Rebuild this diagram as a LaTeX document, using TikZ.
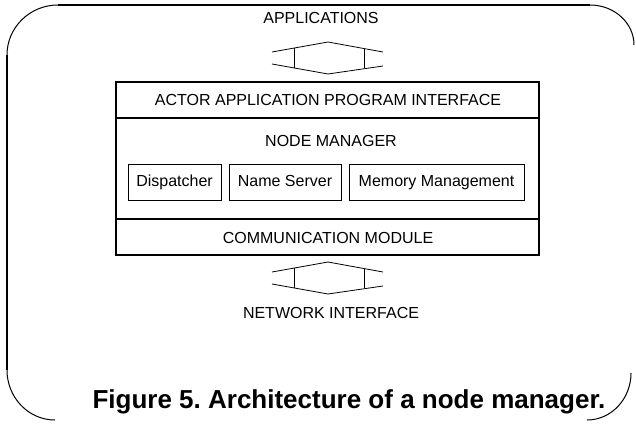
\documentclass[tikz,border=0pt]{standalone}
\usepackage{fontspec}
\setmainfont{Liberation Sans}
\frenchspacing
\begin{document}
\begin{tikzpicture}[x=1pt,y=-1pt,
  lbl/.style={font=\fontsize{16}{19}\selectfont, inner sep=0pt},
  part/.style={draw, line width=0.9pt, minimum height=36pt, inner sep=0pt,
    text height=11.5pt, text depth=3.5pt, font=\fontsize{16}{19}\selectfont},
  layer/.style={line width=1.1pt},
  hexline/.style={line width=0.8pt},
  frame/.style={line width=1.6pt},
  framearc/.style={line width=1pt}]
\useasboundingbox (0,0) rectangle (636,423);

% rounded outer frame
\draw[frame] (590,5) -- (58,5);
\draw[framearc] (58,5) arc[start angle=90, end angle=180, x radius=51, y radius=-50];
\draw[frame] (7,55) -- (7,370);
\draw[framearc] (7,370) arc[start angle=180, end angle=270, x radius=48, y radius=-50];
\draw[framearc] (590,5) arc[start angle=90, end angle=0, x radius=44, y radius=-40];
\draw[framearc] (631,373) arc[start angle=0, end angle=-90, x radius=44, y radius=-47];

% layered node manager block
\node[lbl] (apps) at (321,18) {APPLICATIONS};
\draw[layer] (116,82) rectangle (539,255);
\coordinate (apiL) at (116,118);
\coordinate (apiR) at (539,118);
\coordinate (cmL) at (116,219);
\coordinate (cmR) at (539,219);
\draw[layer] (apiL) -- (apiR);
\draw[layer] (cmL) -- (cmR);
\node[lbl] (api) at (328,100) {ACTOR APPLICATION PROGRAM INTERFACE};
\node[lbl] (nm) at (331,141) {NODE MANAGER};
\node[lbl] (cm) at (328,238) {COMMUNICATION MODULE};

\node[part, minimum width=93pt] (disp) at (174.5,182) {Dispatcher};
\node[part, minimum width=112pt] (ns) at (285,182) {Name Server};
\node[part, minimum width=175pt] (mm) at (436.5,182) {Memory Management};

% two-way link symbols
\foreach \yy/\nm in {0/up, 220/down}{
  \coordinate (\nm tl) at (272,{52+\yy});
  \coordinate (\nm tm) at (328,{42+\yy});
  \coordinate (\nm tr) at (383,{52+\yy});
  \coordinate (\nm bl) at (272,{64+\yy});
  \coordinate (\nm bm) at (328,{74+\yy});
  \coordinate (\nm br) at (383,{66+\yy});
  \draw[hexline] (\nm tl) -- (\nm tm) -- (\nm tr);
  \draw[hexline] (\nm bl) -- (\nm bm) -- (\nm br);
  \draw[hexline] (294,{48.1+\yy}) -- (294,{68+\yy});
  \draw[hexline] (364,{48.5+\yy}) -- (364,{68.4+\yy});
}

\node[lbl] (net) at (331,313) {NETWORK INTERFACE};
\node[font=\fontsize{26}{30}\selectfont\bfseries, inner sep=0pt] (cap) at (349,402) {Figure 5. Architecture of a node manager.};
\end{tikzpicture}
\end{document}
